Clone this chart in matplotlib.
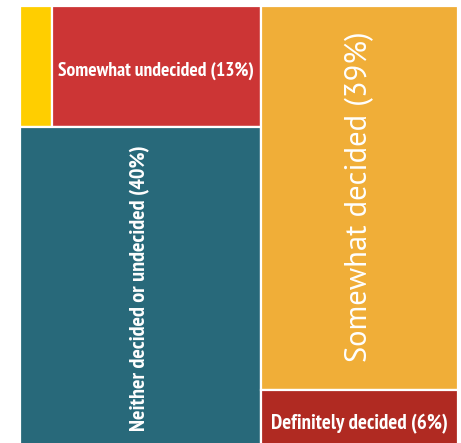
import matplotlib
matplotlib.use("Agg")
import matplotlib.pyplot as plt
from matplotlib.patches import Rectangle

# treemap values (percent)
left_labels = ["", "Somewhat undecided (13%)", "Neither decided or undecided (40%)"]
left_values = [2, 13, 40]
left_colors = ["#FFCE00", "#CC3535", "#28697A"]

right_labels = ["Somewhat decided (39%)", "Definitely decided (6%)"]
right_values = [39, 6]
right_colors = ["#F0AE38", "#B02A22"]

narrow = ["PT Sans Narrow", "Open Sans Condensed", "DejaVu Sans"]
wide = ["PT Sans", "Open Sans", "DejaVu Sans"]

W, H = 461, 443
fig = plt.figure(figsize=(W / 100, H / 100), dpi=100)
ax = fig.add_axes([19.5 / W, -6 / H, 438.5 / W, 443 / H])
ax.set_xlim(0, 100)
ax.set_ylim(0, 100)
ax.axis("off")

total = sum(left_values) + sum(right_values)
left_w = 100 * sum(left_values) / total


def box(x, y, w, h, color):
    ax.add_patch(Rectangle((x, y), w, h, facecolor=color, edgecolor="white", linewidth=1.6))


def label(x, y, w, h, text, size, rot=0, bold=True, dy=0):
    if text:
        ax.text(x + w / 2, y + h / 2 + dy, text, color="white", fontsize=size,
                family=narrow if bold else wide,
                fontweight="bold" if bold else "normal", rotation=rot,
                ha="center", va="center")


# left column: top row split sideways, big block below
top_sum = left_values[0] + left_values[1]
top_h = 100 * top_sum / sum(left_values)
x = 0
for lab, v, c in zip(left_labels[:2], left_values[:2], left_colors[:2]):
    w = left_w * v / top_sum
    box(x, 100 - top_h, w, top_h, c)
    label(x, 100 - top_h, w, top_h, lab, 14, dy=-1)
    x += w
box(0, 0, left_w, 100 - top_h, left_colors[2])
label(0, 0, left_w, 100 - top_h, left_labels[2], 16, rot=90)

# right column stacked top to bottom
right_w = 100 - left_w
y = 100
for i, (lab, v, c) in enumerate(zip(right_labels, right_values, right_colors)):
    h = 100 * v / sum(right_values)
    y -= h
    box(left_w, y, right_w, h, c)
    if i == 0:
        label(left_w, y, right_w, h, lab, 22, rot=90, bold=False, dy=0.4)
    else:
        label(left_w, y, right_w, h, lab, 15, dy=-1)

fig.savefig("out.png", dpi=100, facecolor="white")
